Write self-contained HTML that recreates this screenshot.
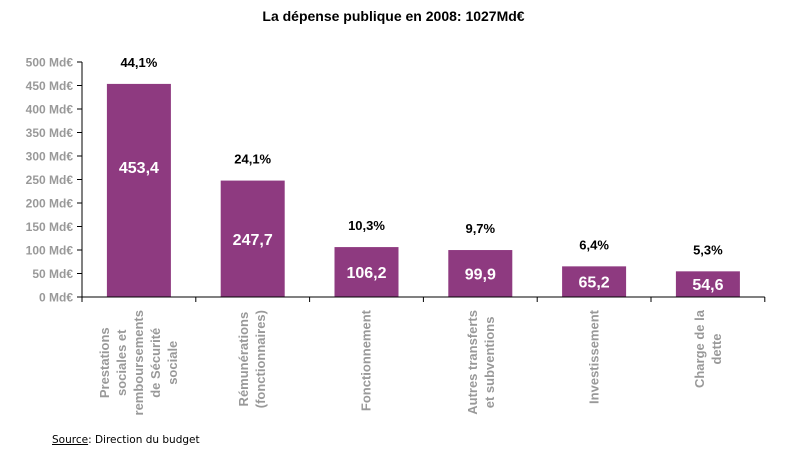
<!DOCTYPE html>
<html><head><meta charset="utf-8"><style>
body{margin:0;width:787px;height:464px;background:#fff;position:relative;overflow:hidden;font-family:"Liberation Sans",Arial,sans-serif}
.t{position:absolute;white-space:nowrap}
.cat{position:absolute;top:310px;width:0;height:0}
.cat div{position:absolute;right:0;top:0;transform-origin:right top;transform:rotate(-90deg) translateY(-50%);text-align:center;white-space:pre;color:#999;font-weight:bold;font-size:13px;line-height:17px}
</style></head><body>
<div class="t" style="left:0;width:787px;text-align:center;top:8px;font-weight:bold;font-size:14px;color:#000">La dépense publique en 2008: 1027Md€</div>
<svg id="c" width="787" height="464" style="position:absolute;left:0;top:0"></svg>
<div id="labels"></div>
<div class="t" style="left:52px;top:434px;font-family:'DejaVu Sans',sans-serif;font-size:10.5px;color:#000"><u>Source</u>: Direction du budget</div>
<script>
const categories=["Prestations\nsociales et\nremboursements\nde Sécurité\nsociale","Rémunérations\n(fonctionnaires)","Fonctionnement","Autres transferts\net subventions","Investissement","Charge de la\ndette"];
const values=[453.4,247.7,106.2,99.9,65.2,54.6];
const valueLabels=["453,4","247,7","106,2","99,9","65,2","54,6"];
const pctLabels=["44,1%","24,1%","10,3%","9,7%","6,4%","5,3%"];
const yTicks=[0,50,100,150,200,250,300,350,400,450,500];
const X0=82,CW=113.8,Y0=297,PX=0.47,BW=64;
const y=v=>Y0-v*PX, xc=i=>X0+CW*(i+0.5);
const svg=document.getElementById('c'),NS="http://www.w3.org/2000/svg";
function mk(tag,at,txt){const e=document.createElementNS(NS,tag);for(const k in at)e.setAttribute(k,at[k]);if(txt!=null)e.textContent=txt;svg.appendChild(e);return e;}
yTicks.forEach(v=>{
 const l=mk('line',{x1:77,x2:82,y1:y(v),y2:y(v),stroke:'#000'});
 
 
 const t=mk('text',{x:73,y:y(v)+4.5,'text-anchor':'end','font-size':12,'font-weight':'bold',fill:'#999','font-family':'Liberation Sans,Arial,sans-serif'},v+' Md€');
 
 
});
values.forEach((v,i)=>{
 const top=y(v),h=Y0-top;
 const r=mk('rect',{x:xc(i)-BW/2,y:top,width:BW,height:h,fill:'#8e3a80'});
 
 
 const vl=mk('text',{x:xc(i),y:top+Math.min(h/2,83)+6,'text-anchor':'middle','font-size':16,'font-weight':'bold',fill:'#fff','font-family':'Liberation Sans,Arial,sans-serif'},valueLabels[i]);
 
 
 const pl=mk('text',{x:xc(i),y:top-17,'text-anchor':'middle','font-size':13,'font-weight':'bold',fill:'#000','font-family':'Liberation Sans,Arial,sans-serif'},pctLabels[i]);
 
 
});
const ax=mk('line',{x1:82,x2:82,y1:y(500),y2:Y0,stroke:'#000'});


const xa=mk('line',{x1:82,x2:X0+CW*categories.length,y1:Y0,y2:Y0,stroke:'#000'});


for(let i=0;i<=categories.length;i++){
 const t=mk('line',{x1:X0+CW*i,x2:X0+CW*i,y1:Y0,y2:Y0+5,stroke:'#000'});
 
 
}
const L=document.getElementById('labels');
categories.forEach((c,i)=>{
 const w=document.createElement('div');w.className='cat';w.style.left=xc(i)+'px';
 
 
 const d=document.createElement('div');d.textContent=c;w.appendChild(d);L.appendChild(w);
});
</script>
</body></html>
